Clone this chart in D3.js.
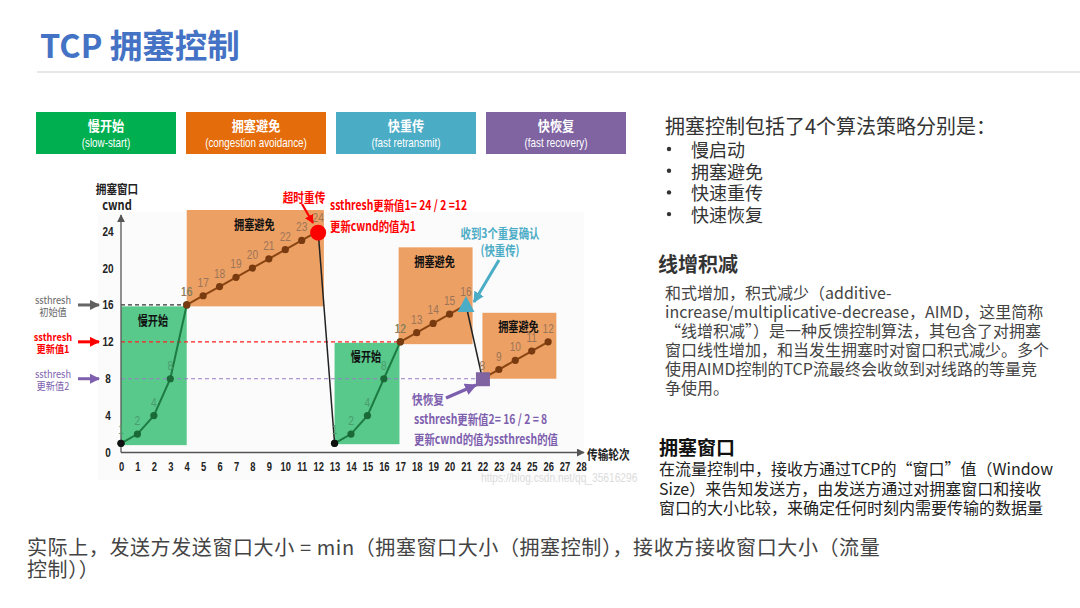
<!DOCTYPE html>
<html><head><meta charset="utf-8">
<script src="https://cdn.jsdelivr.net/npm/d3@7"></script>
<style>
body{margin:0;background:#fff}
svg{display:block}
text{font-family:"Noto Sans CJK SC","Noto Sans",sans-serif}
</style>
</head><body>
<svg id="c" width="1080" height="608"></svg>
<script>
// ---------- data ----------
const rounds = d3.range(0, 29);
const yTicks = [0, 4, 8, 12, 16, 20, 24];
const slowStart1 = [[0,1],[1,2],[2,4],[3,8],[4,16]];
const congAvoid1 = [[4,16],[5,17],[6,18],[7,19],[8,20],[9,21],[10,22],[11,23],[12,24]];
const timeoutDrop = [[12,24],[13,1]];
const slowStart2 = [[13,1],[14,2],[15,4],[16,8],[17,12]];
const congAvoid2 = [[17,12],[18,13],[19,14],[20,15],[21,16]];
const fastDrop = [[21,16],[22,8]];
const congAvoid3 = [[22,8],[23,9],[24,10],[25,11],[26,12]];
const ssthreshLevels = [16, 12, 8];
const ssthreshEnds = [4, 17, 22];
const ssthreshNames = [["ssthresh","初始值"],["ssthresh","更新值1"],["ssthresh","更新值2"]];
const phaseRegions = [
  {kind:"slow", x0:0, x1:4, y0:0.8, y1:15.85, label:"慢开始"},
  {kind:"avoid", x0:4, x1:12.35, y0:15.85, y1:26.3, label:"拥塞避免"},
  {kind:"slow", x0:13, x1:16.95, y0:0.9, y1:11.9, label:"慢开始"},
  {kind:"avoid", x0:16.9, x1:21.4, y0:11.75, y1:22.25, label:"拥塞避免"},
  {kind:"avoid", x0:22, x1:26.5, y0:8, y1:15.15, label:"拥塞避免"}
];
const headerCn = ["慢开始","拥塞避免","快重传","快恢复"];
const headerEn = ["(slow-start)","(congestion avoidance)","(fast retransmit)","(fast recovery)"];
const headerColors = ["#00b050","#e46c0a","#4bacc6","#8064a2"];
const rightIntro = "拥塞控制包括了4个算法策略分别是：";
const rightBullets = ["慢启动","拥塞避免","快速重传","快速恢复"];
const aimdTitle = "线增积减";
const aimdLines = ["和式增加，积式减少（additive-",
  "increase/multiplicative-decrease，AIMD，这里简称",
  "“线增积减”）是一种反馈控制算法，其包含了对拥塞",
  "窗口线性增加，和当发生拥塞时对窗口积式减少。多个",
  "使用AIMD控制的TCP流最终会收敛到对线路的等量竞",
  "争使用。"];
const cwndTitle = "拥塞窗口";
const cwndLines = ["在流量控制中，接收方通过TCP的“窗口”值（Window",
  "Size）来告知发送方，由发送方通过对拥塞窗口和接收",
  "窗口的大小比较，来确定任何时刻内需要传输的数据量"];
const bottomLines = ["实际上，发送方发送窗口大小 = min（拥塞窗口大小（拥塞控制），接收方接收窗口大小（流量",
  "控制））"];

// ---------- drawing ----------
const svg = d3.select("#c");
const defs = svg.append("defs");
function marker(id, color, w, h){
  defs.append("marker").attr("id",id).attr("viewBox","0 0 10 10").attr("refX",9).attr("refY",5)
    .attr("markerWidth",w).attr("markerHeight",h).attr("orient","auto").attr("markerUnits","userSpaceOnUse")
    .append("path").attr("d","M0,0L10,5L0,10Z").attr("fill",color);
}
marker("mGray","#606060",10,10);
marker("mRed","#ff0000",10,10);
marker("mPur","#7e5fae",10,10);
marker("mBlue","#4bacc6",11,11);
marker("mAxis","#555",8,8);
marker("mRed2","#ff0000",9,9);
marker("mPur2","#7e5fae",12,12);

// condensed text helper
function ct(parent, px, py, txt, size, color, anchor, sx, bold){
  const g = parent.append("g").attr("transform",`translate(${px},${py}) scale(${sx},1)`);
  return g.append("text").attr("x",0).attr("y",0).attr("dominant-baseline","central")
    .attr("text-anchor",anchor||"start").attr("font-size",size).attr("fill",color)
    .attr("font-weight",bold===false?"normal":"bold").text(txt);
}

// title
svg.append("text").attr("x",40).attr("y",58).text("TCP 拥塞控制")
  .attr("font-size",32.5).attr("font-weight","bold").attr("fill","#4472c4");
svg.append("line").attr("x1",37).attr("x2",1080).attr("y1",72).attr("y2",72).attr("stroke","#d0d0d0").attr("stroke-width",1.2);

// header boxes
const hb = d3.scaleBand().domain(headerCn).range([36,626]).paddingInner(1/15);
const hgroup = svg.append("g");
headerCn.forEach((d,i)=>{
  hgroup.append("rect").attr("x",hb(d)).attr("y",112).attr("width",hb.bandwidth()).attr("height",42)
    .attr("fill",headerColors[i]);
  ct(hgroup, hb(d)+hb.bandwidth()/2, 125.5, d, 13.5, "#fff", "middle", 0.9, true);
  ct(hgroup, hb(d)+hb.bandwidth()/2, 143, headerEn[i], 12, "#fff", "middle", 0.82, false)
    .style("font-family","'Liberation Sans',sans-serif");
});

// scales
const x = d3.scaleLinear().domain([0,28]).range([121,581]);
const y = d3.scaleLinear().domain([0,24]).range([452.5,231.2]);

// faint plot background
svg.append("rect").attr("x",98).attr("y",212).attr("width",486).attr("height",268).attr("fill","#fbfbfb");

// phase regions
const regColor = {slow:"#58c88b", avoid:"#eca064"};
const prg = svg.append("g");
prg.selectAll("rect").data(phaseRegions).join("rect").attr("x",d=>x(d.x0)).attr("width",d=>x(d.x1)-x(d.x0))
  .attr("y",d=>y(d.y1)).attr("height",d=>y(d.y0)-y(d.y1)).attr("fill",d=>regColor[d.kind]);

// ssthresh dashed lines
const ssColors = ["#333","#ff2020","#9a7cc6"];
const ssTextColors = ["#666","#ff0000","#7e5fae"];
const ssMarkers = ["mGray","mRed","mPur"];
svg.append("g").selectAll("line").data(ssthreshLevels).join("line")
  .attr("x1",x(0)).attr("x2",(d,i)=>x(ssthreshEnds[i])).attr("y1",d=>y(d)).attr("y2",d=>y(d))
  .attr("stroke",(d,i)=>ssColors[i]).attr("stroke-width",1.2).attr("stroke-dasharray","4,3");

const plabels = svg.append("g");
phaseRegions.forEach(d=>{
  ct(plabels, (x(d.x0)+x(d.x1))/2 - 1, y(d.y1)+12.5, d.label, 13, "#111", "middle", 0.78, true);
});

// left annotations
const la = svg.append("g");
ssthreshLevels.forEach((d,i)=>{
  la.append("line").attr("x1",78).attr("x2",99).attr("y1",y(d)).attr("y2",y(d))
    .attr("stroke",ssTextColors[i]).attr("stroke-width",3).attr("marker-end",`url(#${ssMarkers[i]})`);
  ct(la, 53, y(d)-5, ssthreshNames[i][0], 10.5, ssTextColors[i], "middle", 0.88, i==1);
  ct(la, 53, y(d)+7, ssthreshNames[i][1], 10.5, ssTextColors[i], "middle", 0.88, i==1);
});

// axes
const xAxis = svg.append("g").attr("transform",`translate(0,${y(0)})`)
  .call(d3.axisBottom(x).tickValues(rounds).tickSize(0).tickPadding(10).tickFormat(d3.format("d")));
xAxis.select(".domain").remove();
xAxis.selectAll("text").attr("font-size",12).attr("font-weight","bold").attr("fill","#222")
  .style("font-family","'Liberation Sans',sans-serif").attr("transform","scale(0.78,1)");
const yAxis = svg.append("g").attr("transform",`translate(${x(0)},0)`)
  .call(d3.axisLeft(y).tickValues(yTicks).tickSize(0).tickPadding(0));
yAxis.select(".domain").remove();
yAxis.selectAll("text").attr("font-size",12.5).attr("font-weight","bold").attr("fill","#222")
  .style("font-family","'Liberation Sans',sans-serif").attr("text-anchor","middle").attr("x",0)
  .attr("transform","translate(-13,0) scale(0.8,1)");
svg.append("line").attr("x1",x(0)).attr("x2",x(0)).attr("y1",y(0)).attr("y2",215)
  .attr("stroke","#555").attr("stroke-width",1.3).attr("marker-end","url(#mAxis)");
svg.append("line").attr("x1",x(0)).attr("x2",584).attr("y1",y(0)).attr("y2",y(0))
  .attr("stroke","#555").attr("stroke-width",1.3).attr("marker-end","url(#mAxis)");
ct(svg, 117, 189, "拥塞窗口", 12.5, "#222", "middle", 0.85, true);
ct(svg, 117, 204, "cwnd", 13, "#222", "middle", 0.85, true);
ct(svg, 587, y(0), "传输轮次", 13, "#222", "start", 0.82, true);

// watermark
ct(svg, 481, 478, "https://blog.csdn.net/qq_35616296", 12, "#dcdcdc", "start", 0.85, false)
  .style("font-family","'Liberation Sans',sans-serif");

// series lines
const line = d3.line().x(d=>x(d[0])).y(d=>y(d[1]));
const valLabels = svg.append("g");
function series(data, color, dotColor, labelColor, w){
  svg.append("path").datum(data).attr("d",line).attr("fill","none").attr("stroke",color).attr("stroke-width",w);
  if(dotColor){
    svg.append("g").selectAll("circle").data(data).join("circle")
      .attr("cx",d=>x(d[0])).attr("cy",d=>y(d[1])).attr("r",3.6).attr("fill",dotColor);
  }
  if(labelColor){
    data.forEach(d=>{
      ct(valLabels, x(d[0]), y(d[1])-14, String(d[1]), 13, labelColor, "middle", 0.78, false)
        .style("font-family","'Liberation Sans',sans-serif");
    });
  }
}
series(timeoutDrop,"#222",null,null,1.5);
series(fastDrop,"#222",null,null,1.5);
series(slowStart1,"#1d7a40","#1a6a38","#4a9c6c",2);
series(slowStart2,"#1d7a40","#1a6a38","#4a9c6c",2);
series(congAvoid1,"#8a4512","#7a3a10","#9c7558",2);
series(congAvoid2,"#8a4512","#7a3a10","#9c7558",2);
series(congAvoid3,"#8a4512","#7a3a10","#9c7558",2);
svg.node().appendChild(valLabels.node());
// start points black
svg.append("g").selectAll("circle").data([slowStart1[0],slowStart2[0]]).join("circle")
  .attr("cx",d=>x(d[0])).attr("cy",d=>y(d[1])).attr("r",3.6).attr("fill","#111");

// event markers
const timeoutPt = congAvoid1[congAvoid1.length-1];
svg.append("circle").attr("cx",x(timeoutPt[0])).attr("cy",y(timeoutPt[1])+1.5).attr("r",8).attr("fill","#ff0000");
const fastPt = congAvoid2[congAvoid2.length-1];
const tx = x(fastPt[0]), ty = y(fastPt[1]);
svg.append("path").attr("d",`M${tx},${ty-9}L${tx+8.5},${ty+7}L${tx-8.5},${ty+7}Z`).attr("fill","#4bacc6");
const recPt = congAvoid3[0];
svg.append("rect").attr("x",x(recPt[0])-6.5).attr("y",y(recPt[1])-6.5).attr("width",14).attr("height",14).attr("fill","#8064a2");

// red annotation
ct(svg, 304, 196, "超时重传", 13, "#ff0000", "middle", 0.82, true);
svg.append("line").attr("x1",302).attr("y1",204).attr("x2",313).attr("y2",223).attr("stroke","#ff0000").attr("stroke-width",2.2).attr("marker-end","url(#mRed2)");
ct(svg, 330, 204, "ssthresh更新值1= 24 / 2 =12", 13, "#ff0000", "start", 0.8, true);
ct(svg, 330, 225, "更新cwnd的值为1", 13, "#ff0000", "start", 0.8, true);

// blue annotation
ct(svg, 500, 232, "收到3个重复确认", 13, "#4bacc6", "middle", 0.8, true);
ct(svg, 500, 249, "(快重传)", 13, "#4bacc6", "middle", 0.8, true);
svg.append("line").attr("x1",499).attr("y1",260).attr("x2",474).attr("y2",302).attr("stroke","#4bacc6").attr("stroke-width",3).attr("marker-end","url(#mBlue)");

// purple annotation
ct(svg, 412, 398, "快恢复", 13, "#7e5fae", "start", 0.82, true);
svg.append("line").attr("x1",446).attr("y1",398).attr("x2",476).attr("y2",385).attr("stroke","#7e5fae").attr("stroke-width",3.5).attr("marker-end","url(#mPur2)");
ct(svg, 414, 418, "ssthresh更新值2= 16 / 2 = 8", 13, "#7e5fae", "start", 0.8, true);
ct(svg, 414, 438, "更新cwnd的值为ssthresh的值", 13, "#7e5fae", "start", 0.8, true);

// right side text
svg.append("text").attr("x",665).attr("y",125).attr("dominant-baseline","central").attr("font-size",20).attr("fill","#333").text(rightIntro);
const rb = svg.append("g");
rightBullets.forEach((d,i)=>{
  rb.append("circle").attr("cx",669).attr("cy",149+i*21.7).attr("r",2.2).attr("fill","#333");
  rb.append("text").attr("x",691).attr("y",149+i*21.7).attr("dominant-baseline","central").attr("font-size",18).attr("fill","#333").text(d);
});
svg.append("text").attr("x",658).attr("y",263).attr("dominant-baseline","central").attr("font-size",20).attr("font-weight","bold").attr("fill","#333").text(aimdTitle);
svg.append("g").selectAll("text").data(aimdLines).join("text").attr("x",665).attr("y",(d,i)=>292+i*19)
  .attr("dominant-baseline","central").attr("font-size",16).attr("fill","#444").text(d=>d);
svg.append("text").attr("x",659).attr("y",446).attr("dominant-baseline","central").attr("font-size",19).attr("font-weight","bold").attr("fill","#111").text(cwndTitle);
svg.append("g").selectAll("text").data(cwndLines).join("text").attr("x",659).attr("y",(d,i)=>468+i*19.5)
  .attr("dominant-baseline","central").attr("font-size",16).attr("fill","#222").text(d=>d);

// bottom text
svg.append("g").selectAll("text").data(bottomLines).join("text").attr("x",27).attr("y",(d,i)=>546.5+i*22)
  .attr("dominant-baseline","central").attr("font-size",20).attr("letter-spacing",0.6).attr("fill","#444").text(d=>d);
</script>
</body></html>
